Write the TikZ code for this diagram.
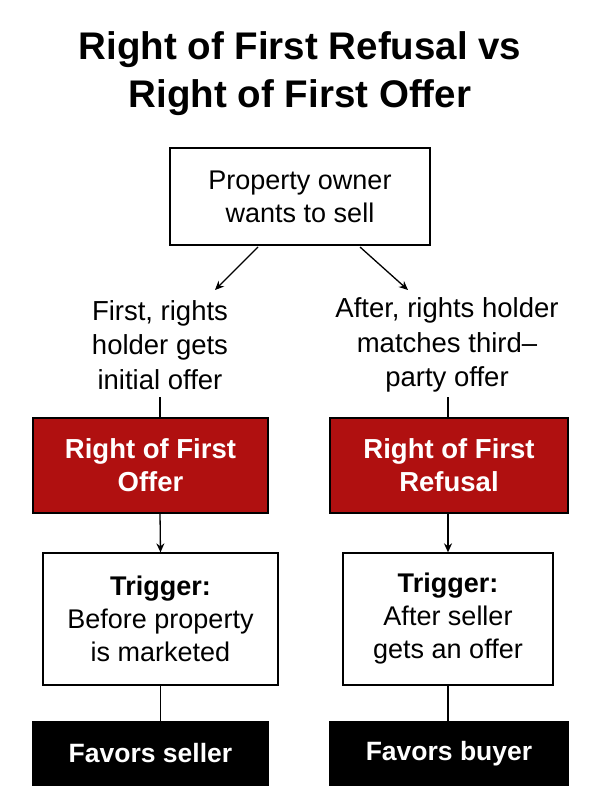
\documentclass[tikz,border=0pt]{standalone}
\usepackage{fontspec}
\setmainfont{Liberation Sans}
\usetikzlibrary{arrows.meta}
\definecolor{rred}{HTML}{B01010}
\begin{document}
\begin{tikzpicture}[x=1pt,y=-1pt,
  box/.style={draw=black,line width=1.3pt,align=center,inner sep=0pt},
  redbox/.style={box,fill=rred,text=white,font=\fontsize{27.5}{33}\selectfont\bfseries},
  blkbox/.style={box,fill=black,text=white,font=\fontsize{26.5}{32}\selectfont\bfseries},
  wbox/.style={box,fill=white,font=\fontsize{27}{33}\selectfont},
  lbl/.style={align=center,font=\fontsize{27.5}{34.5}\selectfont},
  arr/.style={-{Stealth[length=9pt,width=8pt]},line width=1.3pt},
  ln/.style={line width=1.3pt}]
\useasboundingbox (0,0) rectangle (600,800);
\node[align=center,font=\fontsize{38.5}{48}\selectfont\bfseries] (title) at (300,74) {Right of First Refusal vs\\Right of First Offer};
\node[wbox,minimum width=260,minimum height=97] (top) at (300,196.5) {Property owner\\wants to sell};
\node[lbl] (ltxt) at (160,345) {First, rights\\holder gets\\initial offer};
\node[lbl] (rtxt) at (447,345) {After, rights holder\\matches third–\\party offer};
\coordinate (la) at (258,247); \coordinate (lb) at (215,290);
\coordinate (ra) at (360,247); \coordinate (rb) at (408,290);
\draw[arr] (la) -- (lb);
\draw[arr] (ra) -- (rb);
\node[redbox,minimum width=235,minimum height=95] (lred) at (150.5,465.5) {Right of First\\Offer};
\node[redbox,minimum width=238,minimum height=95] (rred) at (449,465.5) {Right of First\\Refusal};
\draw[ln] (160,397) -- (160,418);
\draw[ln] (448,397) -- (448,418);
\node[wbox,minimum width=235,minimum height=132] (lw) at (160.5,619) {\textbf{Trigger:}\\Before property\\is marketed};
\node[wbox,minimum width=210,minimum height=132] (rw) at (448,619) {\textbf{Trigger:}\\After seller\\gets an offer};
\draw[arr] (160,513) -- (lw.north);
\draw[arr] (448,513) -- (rw.north);
\node[blkbox,minimum width=235,minimum height=63] (lb2) at (150.5,753.5) {Favors seller};
\node[blkbox,minimum width=238,minimum height=63] (rb2) at (449,753.5) {Favors buyer};
\draw[ln] (lw.south) -- (160.5,722);
\draw[ln] (rw.south) -- (448,722);
\end{tikzpicture}
\end{document}
